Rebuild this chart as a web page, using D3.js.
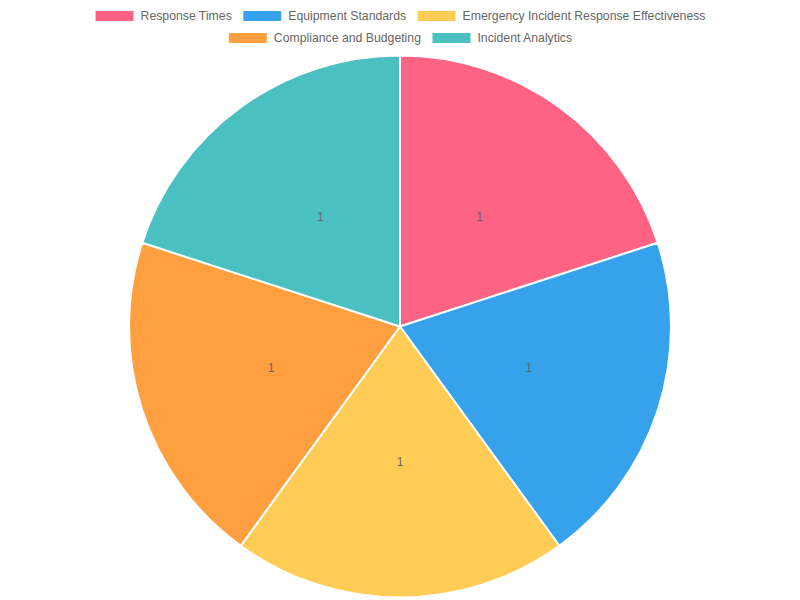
<!DOCTYPE html>
<html><head><meta charset="utf-8">
<script src="https://cdn.jsdelivr.net/npm/d3@7"></script>
<style>body{margin:0;background:#fff}svg{display:block}</style>
</head><body><svg id="c" width="800" height="600"></svg>
<script>
const categories = ["Response Times","Equipment Standards","Emergency Incident Response Effectiveness","Compliance and Budgeting","Incident Analytics"];
const values = [1,1,1,1,1];
const colors = ["#ff6384","#36a2eb","#ffcd56","#ff9f40","#4bc0c0"];
const legendRows = [[0,1,2],[3,4]];

const svg = d3.select("#c");
const font = "'Liberation Sans', Helvetica, Arial, sans-serif";
const cx = 400, cy = 326.5, R = 271;

const pie = d3.pie().sort(null).value(d => d)(values);
const arc = d3.arc().innerRadius(0).outerRadius(R);
const labelArc = d3.arc().innerRadius(R/2).outerRadius(R/2);
const g = svg.append("g").attr("transform", `translate(${cx},${cy})`);
g.selectAll("path").data(pie).join("path")
  .attr("d", arc).attr("fill", (d,i) => colors[i])
  .attr("stroke", "#fff").attr("stroke-width", 2).attr("stroke-linejoin","round");
g.selectAll("text").data(pie).join("text")
  .attr("transform", d => `translate(${labelArc.centroid(d)})`)
  .attr("text-anchor","middle").attr("dominant-baseline","central")
  .attr("font-family", font).attr("font-size", 12).attr("fill", "#666")
  .text(d => d.data);

// legend
const lg = svg.append("g");
const rowY = [16, 38];
legendRows.forEach((row, ri) => {
  const items = row.map(i => {
    const t = lg.append("text").attr("font-family", font).attr("font-size", 12.25)
      .attr("fill", "#666").attr("dominant-baseline","central").attr("y", rowY[ri]).text(categories[i]);
    const w = t.node().getComputedTextLength();
    return {i, t, w: 45 + w};
  });
  const total = d3.sum(items, d => d.w) + 11.5 * (items.length - 1);
  let x = 400.5 - total / 2;
  items.forEach(it => {
    lg.append("rect").attr("x", x).attr("y", rowY[ri] - 5).attr("width", 38).attr("height", 10)
      .attr("fill", colors[it.i]);
    it.t.attr("x", x + 45);
    x += it.w + 11.5;
  });
});
</script></body></html>
